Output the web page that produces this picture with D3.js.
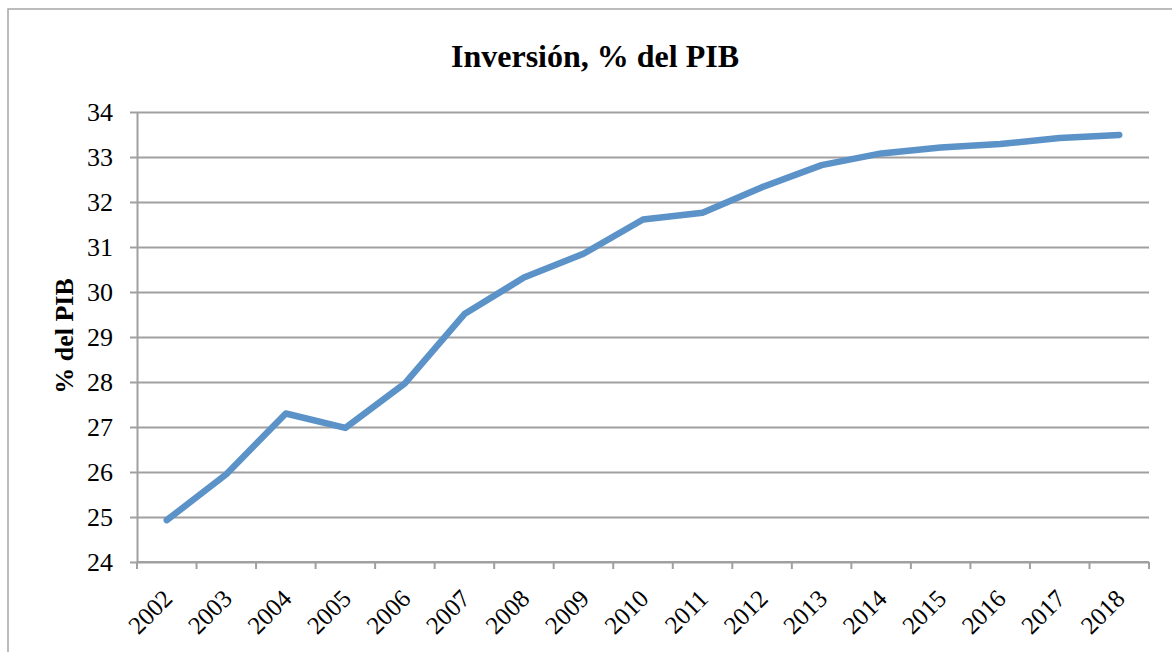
<!DOCTYPE html>
<html lang="es">
  <head>
    <meta charset="utf-8" />
    <script src="https://d3js.org/d3.v7.min.js"></script>
    <style>
      body { margin: 0; background: #fff; }
      text { font-family: "Liberation Serif", "Times New Roman", serif; fill: #000; }
    </style>
  </head>
  <body>
    <svg id="chart" width="1172" height="652"></svg>
    <script>
    // data
    var years = ["2002","2003","2004","2005","2006","2007","2008","2009","2010",
                 "2011","2012","2013","2014","2015","2016","2017","2018"];
    var inversion = [24.93, 25.95, 27.30, 26.98, 27.97, 29.51, 30.32, 30.85, 31.61,
                     31.76, 32.33, 32.82, 33.08, 33.21, 33.29, 33.42, 33.49];
    var yTicks = [24, 25, 26, 27, 28, 29, 30, 31, 32, 33, 34];

    var svg = d3.select("#chart");
    var plotLeft = 137, plotRight = 1149, plotTop = 112, plotBottom = 562;

    // outer frame of the chart area
    svg.append("rect")
      .attr("x", 8).attr("y", 9)
      .attr("width", 1200).attr("height", 700)
      .attr("fill", "none")
      .attr("stroke", "#a6a6a6")
      .attr("stroke-width", 1.5);

    var x = d3.scaleBand().domain(years).range([plotLeft, plotRight]);
    var y = d3.scaleLinear().domain([24, 34]).range([plotBottom, plotTop]);

    // gridlines + y axis
    var yAxis = d3.axisLeft(y)
      .tickValues(yTicks)
      .tickSize(-(plotRight - plotLeft))
      .tickSizeOuter(0)
      .tickPadding(24)
      .tickFormat(d3.format("d"));

    var gy = svg.append("g")
      .attr("transform", "translate(" + plotLeft + ",0)")
      .call(yAxis);
    gy.select(".domain").attr("stroke", "#a0a0a0").attr("stroke-width", 2);
    gy.selectAll(".tick line")
      .attr("x1", -7)
      .attr("stroke", "#a0a0a0")
      .attr("stroke-width", 2);
    gy.selectAll(".tick text")
      .style("font-size", "26px")
      .attr("dy", "0.34em");

    // x axis with ticks on the band edges
    var gx = svg.append("g")
      .attr("transform", "translate(0," + plotBottom + ")");
    gx.append("line")
      .attr("x1", plotLeft).attr("x2", plotRight)
      .attr("stroke", "#a0a0a0").attr("stroke-width", 2);
    gx.selectAll(".edge")
      .data(years.concat(["end"]))
      .enter().append("line")
      .attr("class", "edge")
      .attr("x1", function(d, i) { return plotLeft + i * x.step(); })
      .attr("x2", function(d, i) { return plotLeft + i * x.step(); })
      .attr("y1", 0).attr("y2", 7)
      .attr("stroke", "#a0a0a0").attr("stroke-width", 2);
    gx.selectAll(".lbl")
      .data(years)
      .enter().append("text")
      .attr("class", "lbl")
      .attr("text-anchor", "end")
      .attr("dy", "0.35em")
      .attr("transform", function(d) {
        return "translate(" + (x(d) + x.bandwidth() / 2 + 1) + ",32) rotate(-45)";
      })
      .style("font-size", "25px")
      .text(function(d) { return d; });

    // the series
    var line = d3.line()
      .x(function(d, i) { return x(years[i]) + x.bandwidth() / 2; })
      .y(function(d) { return y(d); });

    svg.append("path")
      .datum(inversion)
      .attr("d", line)
      .attr("fill", "none")
      .attr("stroke", "#5b92c8")
      .attr("stroke-width", 6.5)
      .attr("stroke-linejoin", "round")
      .attr("stroke-linecap", "round");

    // titles
    svg.append("text")
      .attr("x", 595).attr("y", 67)
      .attr("text-anchor", "middle")
      .style("font-size", "32px")
      .style("font-weight", "bold")
      .text("Inversión, % del PIB");

    svg.append("text")
      .attr("transform", "translate(73,336) rotate(-90)")
      .attr("text-anchor", "middle")
      .style("font-size", "26px")
      .style("font-weight", "bold")
      .text("% del PIB");
    </script>
  </body>
</html>
